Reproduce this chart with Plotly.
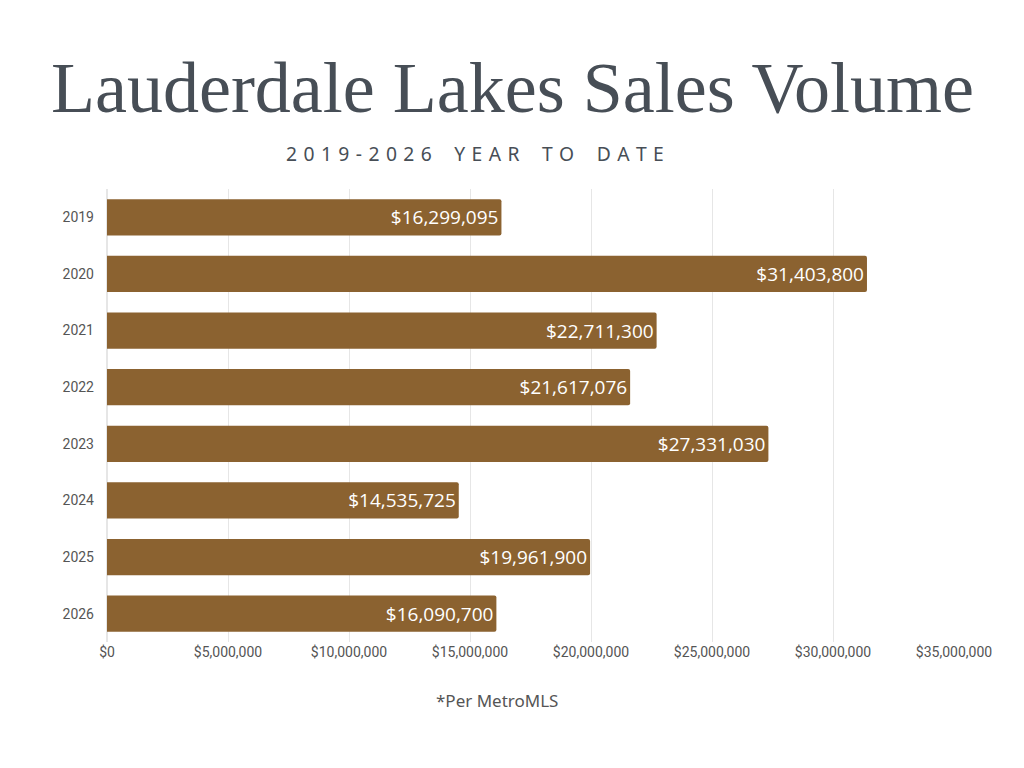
import plotly.graph_objects as go

# Data
years = ["2019", "2020", "2021", "2022", "2023", "2024", "2025", "2026"]
sales_volume = [16299095, 31403800, 22711300, 21617076, 27331030, 14535725, 19961900, 16090700]
x_ticks = [0, 5000000, 10000000, 15000000, 20000000, 25000000, 30000000, 35000000]
x_tick_labels = ["$0", "$5,000,000", "$10,000,000", "$15,000,000", "$20,000,000",
                 "$25,000,000", "$30,000,000", "$35,000,000"]

bar_color = "#8B6230"
title_color = "#474E56"

subtitle = "2019-2026 YEAR TO DATE"
spaced_subtitle = "\u2004".join(subtitle.replace(" ", "\u2002"))

# page body has an 8px margin, so margins are shifted by that amount
ml, mr, mt, mb = 99, 78, 181, 134

fig = go.Figure()

fig.add_trace(go.Bar(
    x=sales_volume,
    y=years,
    orientation="h",
    marker=dict(color=bar_color, line=dict(width=0)),
    text=[f"${v:,}" for v in sales_volume],
    textposition="inside",
    insidetextanchor="end",
    textfont=dict(family="Open Sans", size=19, color="white"),
    hovertemplate="<b>%{y}</b><br>%{x:$,}<extra></extra>",
))

plot_h = 768 - mt - mb
plot_w = 1024 - ml - mr
def py(pix):
    return (768 - mb - (pix - 8)) / plot_h
def px(pix):
    return (pix - 8 - ml) / plot_w

fig.update_layout(
    width=1024,
    height=768,
    paper_bgcolor="white",
    plot_bgcolor="white",
    margin=dict(l=ml, r=mr, t=mt, b=mb),
    bargap=0.36,
    barcornerradius=2,
    showlegend=False,
    annotations=[
        dict(text="Lauderdale Lakes Sales Volume", x=px(512), y=py(88), xref="paper", yref="paper",
             xanchor="center", yanchor="middle", showarrow=False,
             font=dict(family="Liberation Serif", size=72, color=title_color)),
        dict(text=spaced_subtitle, x=px(475), y=py(153), xref="paper", yref="paper",
             xanchor="center", yanchor="middle", showarrow=False,
             font=dict(family="Noto Sans", size=19.3, color=title_color)),
        dict(text="*Per MetroMLS", x=px(497), y=py(700), xref="paper", yref="paper",
             xanchor="center", yanchor="middle", showarrow=False,
             font=dict(family="Noto Sans", size=17, color="#555555")),
    ],
)

fig.update_xaxes(
    range=[0, 35000000],
    tickvals=x_ticks,
    ticktext=x_tick_labels,
    showgrid=True,
    gridcolor="#E6E6E6",
    gridwidth=1,
    zeroline=True,
    zerolinecolor="#E6E6E6",
    showline=False,
    ticks="",
    tickfont=dict(family="Liberation Sans Narrow, Roboto", size=14, color="#555555"),
    fixedrange=True,
)
fig.update_yaxes(
    autorange="reversed",
    showgrid=False,
    ticks="",
    ticklabelstandoff=12,
    tickfont=dict(family="Liberation Sans Narrow, Roboto", size=14, color="#555555"),
    fixedrange=True,
)

fig.write_html("out.html")
